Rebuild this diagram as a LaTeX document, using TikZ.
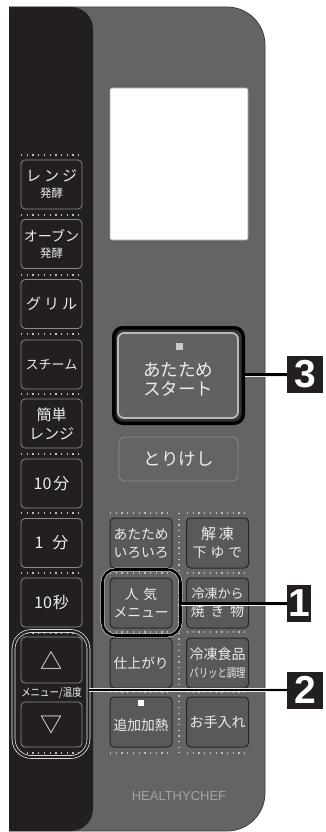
\documentclass[tikz,border=0pt]{standalone}
\usepackage{fontspec}
\setmainfont{Noto Sans CJK JP}
\newfontfamily\latinfont{Liberation Sans}
\usetikzlibrary{positioning, calc}
\definecolor{stripblack}{HTML}{231F20}
\definecolor{panelgray}{HTML}{636466}
\definecolor{keygray}{HTML}{58595B}
\definecolor{keyedge}{HTML}{262626}
\definecolor{rimgray}{HTML}{8B8B8B}
\definecolor{labelwhite}{HTML}{EDEDED}
\definecolor{dotgray}{HTML}{BDBDBD}
\definecolor{brandgray}{HTML}{A3A3A3}
\definecolor{ledgray}{HTML}{C8C8C8}

\begin{document}
\begin{tikzpicture}[
    x=1pt, y=-1pt,
    every node/.style={inner sep=0pt, text=labelwhite, align=center},
    lkey/.style={draw=rimgray, line width=0.8pt, fill=stripblack, rounded corners=4pt,
                 minimum width=61pt, minimum height=49pt, font=\fontsize{15}{19}\selectfont},
    gkey/.style={draw=keyedge, line width=1pt, fill=keygray, rounded corners=4pt,
                 minimum width=62pt, minimum height=50pt, font=\fontsize{13.75}{18}\selectfont},
    dots/.style={dotgray, line width=1.3pt, dash pattern=on 1.3pt off 4.4pt},
    callout/.style={draw=white!85!gray, line width=0.6pt, double=black, double distance=2.8pt},
    numbox/.style={fill=stripblack, text=white, anchor=west, minimum height=37pt,
                   font=\latinfont\bfseries\fontsize{39}{39}\selectfont},
    led/.style={fill=ledgray, minimum size=7pt},
  ]
  \useasboundingbox (0,0) rectangle (325,832);

  % panel body and dark strip
  \begin{scope}
    \clip (9,0) rectangle (325,832);
    \filldraw[fill=panelgray, draw=black!75, line width=0.8pt, rounded corners=38pt]
      (-40,7) rectangle (265,831);
    \fill[stripblack, rounded corners=22pt] (-40,7) rectangle (93,831);
  \end{scope}

  % display
  \node[draw=gray!70, line width=0.6pt, fill=white, rounded corners=2pt,
        minimum width=138pt, minimum height=152pt] (lcd) at (179,164) {};

  % dotted separators
  \foreach \y in {155,215,275,334,394,454,513,573,633,753}
    \draw[dots] (21,\y) -- (82,\y);
  \foreach \y in {513,573,632,692,753} {
    \draw[dots] (110,\y) -- (172,\y);
    \draw[dots] (187,\y) -- (248,\y);
  }
  \draw[dots] (179,513) -- (179,753);

  % left column keys
  \node[lkey] (renji)  at (51.5,184.5) {レ\kern3ptン\kern3ptジ\\[-3pt]{\fontsize{11.5}{12}\selectfont 発酵}};
  \node[lkey] (oven)   at (51.5,244)   {\fontsize{14}{19}\selectfont オーブン\\[-3pt]{\fontsize{11.5}{12}\selectfont 発酵}};
  \node[lkey] (grill)  at (51.5,304)   {グ\kern3ptリ\kern3ptル};
  \node[lkey] (steam)  at (51.5,364.5) {\fontsize{13}{19}\selectfont スチーム};
  \node[lkey] (easy)   at (51.5,423.5) {簡単\\レンジ};
  \node[lkey] (tenmin) at (51.5,483.5) {\fontsize{16}{19}\selectfont 10\kern2pt 分};
  \node[lkey] (onemin) at (51.5,543)   {\fontsize{16}{19}\selectfont 1\kern9pt 分};
  \node[lkey] (tensec) at (51.5,602.5) {\fontsize{16}{19}\selectfont 10\kern1pt 秒};
  \node[lkey, minimum height=46pt] (up)   at (51.5,660)   {\fontsize{22}{22}\selectfont △};
  \node[lkey, minimum height=45pt] (down) at (51.5,724.5) {\fontsize{22}{22}\selectfont ▽};
  \node[font=\fontsize{11}{11}\selectfont, xscale=0.86] (tempmenu) at (51.5,693) {メニュー/温度};

  % start and cancel keys
  \node[draw=black, line width=3.5pt, fill=black!80, rounded corners=9pt,
        minimum width=129.5pt, minimum height=95.5pt] (ring3) at (178.5,375.5) {};
  \node[draw=gray!55!white, line width=1.8pt, fill=keygray!95!white, rounded corners=6pt,
        minimum width=120pt, minimum height=85pt, font=\fontsize{17.5}{19}\selectfont]
        (start) at (178,375.5) {\\[2pt]あたため\\スタート};
  \node[led] (startled) at (179,346) {};
  \node[draw=rimgray, line width=0.8pt, fill=panelgray, rounded corners=6pt,
        minimum width=119pt, minimum height=44pt, font=\fontsize{17.5}{19}\selectfont]
        (cancel) at (178.5,459) {とりけし};

  % menu grid
  \node[gkey] (warm)    at (141,543)   {あたため\\いろいろ};
  \node[gkey] (thaw)    at (217.5,543) {\fontsize{15}{19}\selectfont 解\kern3pt 凍\\下\kern4pt ゆ\kern4pt で};
  \node[gkey] (popular) at (141,603)   {人\kern5pt 気\\メニュー};
  \node[gkey] (frozen)  at (217.5,603) {\fontsize{13}{20}\selectfont 冷凍から\\焼\kern6pt き\kern6pt 物};
  \node[gkey] (finish)  at (141,663)   {仕上がり};
  \node[gkey] (crisp)   at (217.5,663) {\fontsize{14}{18}\selectfont 冷凍食品\\\scalebox{0.78}[1]{\fontsize{12}{18}\selectfont パリッと調理}};
  \node[gkey] (extra)   at (141,722)   {\\[1pt]追加加熱};
  \node[led, fill=white, minimum size=6pt] (extraled) at (141,703) {};
  \node[gkey] (clean)   at (217.5,722) {\fontsize{14}{18}\selectfont お手入れ};

  % brand
  \node[text=brandgray, font=\latinfont\fontsize{13}{13}\selectfont] (brand) at (179,796) {HEALTHYCHEF};

  % callout frames
  \node[draw=white!85!gray, line width=0.5pt, double=black, double distance=2.6pt,
        rounded corners=13pt, minimum width=78pt, minimum height=66pt] (ring1) at (141.5,602.5) {};
  \node[draw=white!90!gray, line width=0.7pt, double=stripblack, double distance=2.2pt,
        rounded corners=18pt, minimum width=75pt, minimum height=126pt] (ring2) at (51,694) {};

  % numbered callouts
  \node[numbox, minimum width=24pt] (n1) at (287,603.5) {1};
  \node[numbox, minimum width=36pt] (n2) at (287,690)   {2};
  \node[numbox, minimum width=36pt] (n3) at (287,374.5) {3};
  \draw[callout] (n1.west -| ring1.east) -- (n1.west);
  \draw[callout] (n2.west -| ring2.east) -- (n2.west);
  \draw[callout] (n3.west -| ring3.east) -- (n3.west);
\end{tikzpicture}
\end{document}
